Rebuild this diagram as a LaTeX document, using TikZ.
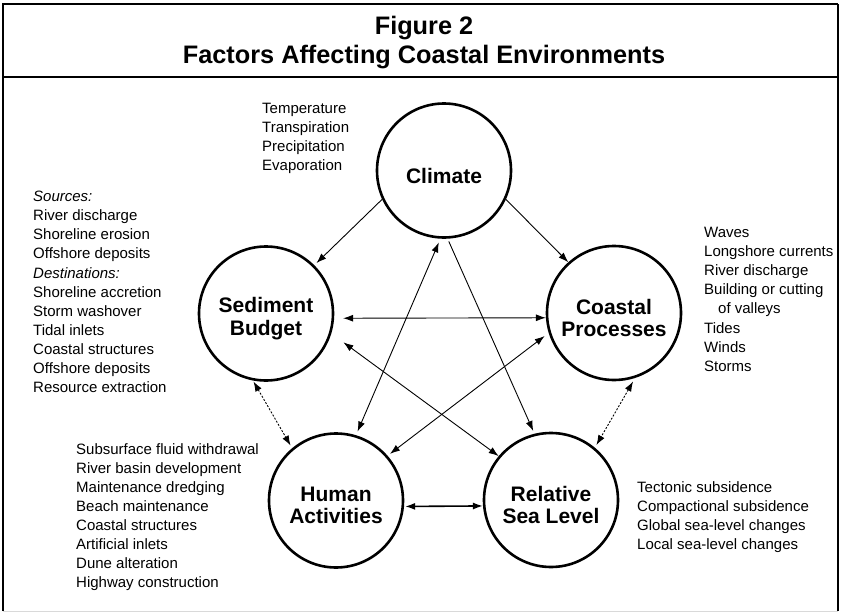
\documentclass[tikz,border=0pt]{standalone}
\usepackage{fontspec}
\setmainfont{Liberation Sans}
\usepackage{tikz}
\usetikzlibrary{arrows.meta}

\begin{document}
\begin{tikzpicture}[x=1pt, y=-1pt,
        factor/.style={circle, draw=black, line width=2.6pt, minimum size=134pt, inner sep=0pt},
        factorname/.style={font=\fontsize{21pt}{22.5pt}\selectfont\bfseries, align=center, yshift=-5pt},
        notes/.style={anchor=north west, inner sep=0pt, align=left, font=\fontsize{15pt}{19.1pt}\selectfont},
        titletext/.style={anchor=north, inner sep=0pt, align=center, font=\fontsize{25.3pt}{29pt}\selectfont\bfseries},
        tip/.style={Latex[length=10pt, width=7pt]},
        link/.style={-{Latex[length=10pt, width=7pt]}, line width=0.9pt},
        both/.style={{Latex[length=10pt, width=7pt]}-{Latex[length=10pt, width=7pt]}, line width=0.9pt},
        faint/.style={both, dash pattern=on 2pt off 1.6pt},
      ]
      \useasboundingbox (0,0) rectangle (841,613);
      % frame and title bar
      \draw [line width=1.2pt] (838,4) -- (838,611);
      \draw [line width=1pt, draw=black!15] (3,611) -- (838,611);
      \draw [line width=2.8pt] (3,611) -- (3,4) -- (838,4);
      \draw [line width=2pt] (3,77) -- (838,77);
      \node [titletext] (title) at (424,15.6) {Figure 2\\Factors Affecting Coastal Environments};

      % the five factors
      \node [factor, label={[factorname]center:Climate}] (climate) at (444,170.5) {};
      \node [factor, label={[factorname]center:Sediment\\Budget}] (sediment) at (266,313.5) {};
      \node [factor, label={[factorname]center:Coastal\\Processes}] (coastal) at (614,313) {};
      \node [factor, label={[factorname]center:Human\\Activities}] (human) at (336,500.5) {};
      \node [factor, label={[factorname]center:Relative\\Sea Level}] (sealevel) at (551,500) {};

      % lists beside each factor
      \node [notes] (climatelist) at (262,103) {Temperature\\Transpiration\\Precipitation\\Evaporation};
      \node [notes] (sedimentlist) at (33,191) {\textit{Sources:}\\River discharge\\Shoreline erosion\\Offshore deposits\\\textit{Destinations:}\\Shoreline accretion\\Storm washover\\Tidal inlets\\Coastal structures\\Offshore deposits\\Resource extraction};
      \node [notes] (coastallist) at (704,227) {Waves\\Longshore currents\\River discharge\\Building or cutting\\\hspace*{14pt}of valleys\\Tides\\Winds\\Storms};
      \node [notes] (humanlist) at (76,443) {Subsurface fluid withdrawal\\River basin development\\Maintenance dredging\\Beach maintenance\\Coastal structures\\Artificial inlets\\Dune alteration\\Highway construction};
      \node [notes] (sealevellist) at (637,481) {Tectonic subsidence\\Compactional subsidence\\Global sea-level changes\\Local sea-level changes};

      % connections
      \draw [link, shorten >=3pt] (climate.205) -- (sediment.45);
      \draw [link] (climate.335) -- (coastal.132);
      \draw [both, shorten <=4pt, shorten >=4pt] (climate.267) -- (human.73);
      \draw [link, shorten <=3pt, shorten >=3pt] (climate.273) -- (sealevel.104);
      \draw [both, shorten <=9pt] (sediment.356) -- (coastal.184);
      \draw [both, shorten <=15pt] (sediment.343) -- (sealevel.140);
      \draw [both, shorten <=5pt, shorten >=3pt] (coastal.197) -- (human.41);
      \draw [faint, shorten <=1pt, shorten >=3pt] (sediment.259) -- (human.130);
      \draw [faint, shorten <=4pt, shorten >=3pt] (coastal.288) -- (sealevel.50);
      \draw [both, line width=1.6pt, shorten <=1pt] (human.355) -- (sealevel.185);
    \end{tikzpicture}
\end{document}
